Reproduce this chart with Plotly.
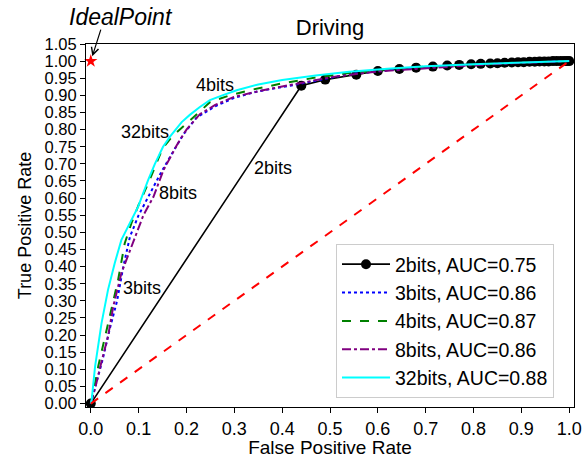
import plotly.graph_objects as go

# ---- data ----
fpr_2bits = [0, 0.44, 0.49, 0.555, 0.60, 0.645, 0.68, 0.715, 0.745, 0.77, 0.795, 0.815,
             0.835, 0.85, 0.865, 0.88, 0.893, 0.905, 0.917, 0.928, 0.938, 0.948, 0.957,
             0.966, 0.974, 0.982, 0.989, 0.995, 1.0]
tpr_2bits = [0, 0.928, 0.946, 0.960, 0.971, 0.977, 0.981, 0.984, 0.987, 0.989, 0.991, 0.992,
             0.993, 0.994, 0.995, 0.996, 0.997, 0.997, 0.998, 0.998, 0.999, 0.999, 0.999,
             1.0, 1.0, 1.0, 1.0, 1.0, 1.0]

fpr_3bits = [0, 0.01, 0.025, 0.04, 0.055, 0.068, 0.082, 0.1, 0.124, 0.145, 0.166, 0.193,
             0.221, 0.26, 0.3, 0.35, 0.416, 0.47, 0.54, 0.62, 0.7, 0.8, 0.9, 1.0]
tpr_3bits = [0, 0.05, 0.13, 0.22, 0.30, 0.40, 0.488, 0.55, 0.614, 0.67, 0.721, 0.785,
             0.835, 0.868, 0.893, 0.912, 0.928, 0.942, 0.962, 0.973, 0.982, 0.99, 0.996, 1.0]

fpr_4bits = [0, 0.005, 0.0156, 0.036, 0.057, 0.071, 0.085, 0.1, 0.123, 0.15, 0.17, 0.21,
             0.249, 0.29, 0.332, 0.40, 0.47, 0.54, 0.62, 0.7, 0.8, 0.9, 1.0]
tpr_4bits = [0, 0.03, 0.109, 0.235, 0.36, 0.468, 0.527, 0.58, 0.653, 0.745, 0.78, 0.83,
             0.88, 0.90, 0.915, 0.935, 0.952, 0.965, 0.976, 0.984, 0.991, 0.996, 1.0]

fpr_8bits = [0, 0.01, 0.022, 0.036, 0.047, 0.064, 0.08, 0.093, 0.11, 0.131, 0.152, 0.18,
             0.2, 0.228, 0.26, 0.298, 0.35, 0.40, 0.506, 0.6, 0.7, 0.8, 0.9, 1.0]
tpr_8bits = [0, 0.05, 0.12, 0.196, 0.284, 0.381, 0.44, 0.488, 0.55, 0.604, 0.682, 0.755,
             0.80, 0.845, 0.872, 0.895, 0.912, 0.926, 0.954, 0.97, 0.98, 0.988, 0.995, 1.0]

fpr_32bits = [0, 0.002, 0.009, 0.0225, 0.036, 0.05, 0.064, 0.082, 0.099, 0.12, 0.134, 0.151,
              0.166, 0.19, 0.207, 0.228, 0.249, 0.275, 0.305, 0.35, 0.40, 0.47, 0.54, 0.62,
              0.7, 0.8, 0.9, 1.0]
tpr_32bits = [0, 0.012, 0.109, 0.235, 0.332, 0.41, 0.478, 0.527, 0.575, 0.653, 0.70, 0.75,
              0.78, 0.822, 0.843, 0.866, 0.886, 0.90, 0.915, 0.932, 0.945, 0.958, 0.969, 0.978,
              0.985, 0.991, 0.996, 1.0]

series_names = ["2bits, AUC=0.75", "3bits, AUC=0.86", "4bits, AUC=0.87",
                "8bits, AUC=0.86", "32bits, AUC=0.88"]

chance_x = [0, 1]
chance_y = [0, 1]
ideal_x = [0]
ideal_y = [1]

label_texts = ["4bits", "32bits", "2bits", "8bits", "3bits"]
label_x = [0.259, 0.1135, 0.38, 0.182, 0.108]
label_y = [0.93, 0.794, 0.689, 0.614, 0.337]

x_ticks = [i / 10 for i in range(11)]
y_ticks = [i / 20 for i in range(22)]

FONT = "Liberation Sans, Arial, sans-serif"

# plot-area geometry in pixels (figure 586 x 458)
L, R, T, B = 86, 12, 44, 51
PW, PH = 586 - L - R, 458 - T - B

fig = go.Figure()

fig.add_trace(go.Scatter(x=fpr_2bits, y=tpr_2bits, mode="lines+markers", name=series_names[0],
                         line=dict(color="black", width=1.6),
                         marker=dict(color="black", size=10)))
fig.add_trace(go.Scatter(x=fpr_3bits, y=tpr_3bits, mode="lines", name=series_names[1],
                         line=dict(color="blue", width=2, dash="dot")))
fig.add_trace(go.Scatter(x=fpr_4bits, y=tpr_4bits, mode="lines", name=series_names[2],
                         line=dict(color="green", width=2, dash="dash")))
fig.add_trace(go.Scatter(x=fpr_8bits, y=tpr_8bits, mode="lines", name=series_names[3],
                         line=dict(color="purple", width=2, dash="dashdot")))
fig.add_trace(go.Scatter(x=fpr_32bits, y=tpr_32bits, mode="lines", name=series_names[4],
                         line=dict(color="cyan", width=2)))
fig.add_trace(go.Scatter(x=chance_x, y=chance_y, mode="lines", showlegend=False,
                         line=dict(color="red", width=2, dash="dash")))
fig.add_trace(go.Scatter(x=ideal_x, y=ideal_y, mode="markers", showlegend=False,
                         marker=dict(color="red", symbol="star", size=10), cliponaxis=False))

for t, lx, ly in zip(label_texts, label_x, label_y):
    fig.add_annotation(x=lx, y=ly, text=t, showarrow=False,
                       font=dict(family=FONT, size=18, color="black"))

# IdealPoint arrow and text
fig.add_annotation(x=0, y=1, ax=10.5, ay=-33, text="", showarrow=True,
                   arrowhead=5, arrowsize=1.2, arrowwidth=1.2, arrowcolor="black",
                   standoff=5)
fig.add_annotation(x=(121 - L) / PW, y=(458 - B - 17) / PH, xref="paper", yref="paper",
                   text="<i>IdealPoint</i>", showarrow=False, xanchor="center", yanchor="middle",
                   font=dict(family=FONT, size=23, color="black"))

fig.update_layout(
    width=586, height=458,
    margin=dict(l=L, r=R, t=T, b=B, autoexpand=False),
    paper_bgcolor="white", plot_bgcolor="white",
    font=dict(family=FONT, size=18, color="black"),
    title=dict(text="Driving", x=0.5, xref="paper", xanchor="center",
               y=1 - 27 / 458, yref="container", yanchor="middle",
               font=dict(family=FONT, size=22)),
    legend=dict(x=(336 - L) / PW, y=(458 - B - 398) / PH, xanchor="left", yanchor="bottom",
                bgcolor="white", bordercolor="#cccccc", borderwidth=1,
                font=dict(family=FONT, size=19.5), itemwidth=48),
    showlegend=True,
)
fig.update_xaxes(range=[-0.01, 1.01], tickvals=x_ticks, tickformat=".1f",
                 showline=True, mirror=True, linecolor="black", linewidth=1,
                 ticks="outside", ticklen=5, tickcolor="black", showgrid=False, zeroline=False,
                 automargin=False,
                 title=dict(text="False Positive Rate", font=dict(size=19), standoff=0),
                 tickfont=dict(size=18))
fig.update_yaxes(range=[-0.01, 1.05], tickvals=y_ticks, tickformat=".2f",
                 showline=True, mirror=True, linecolor="black", linewidth=1,
                 ticks="outside", ticklen=5, tickcolor="black", showgrid=False, zeroline=False,
                 automargin=False,
                 title=dict(text="True Positive Rate", font=dict(size=18), standoff=8),
                 tickfont=dict(size=16.5))

fig.write_html("out.html", config={"displayModeBar": False},
               post_script="document.body.style.margin='0px';document.body.style.padding='0px';")
